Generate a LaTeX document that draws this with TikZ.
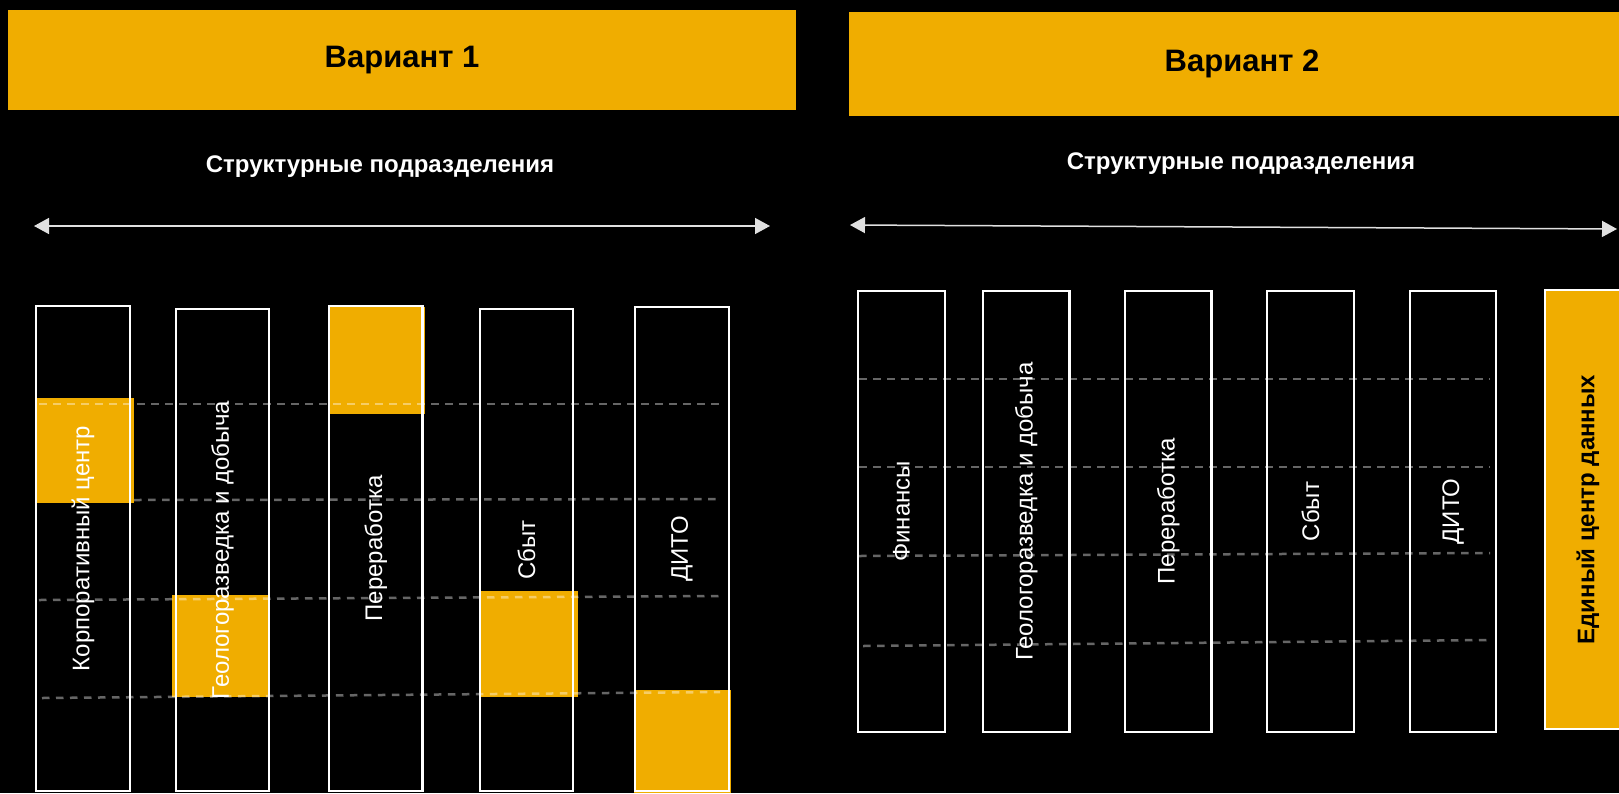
\documentclass[tikz,border=0pt]{standalone}
\usepackage{fontspec}
\setmainfont{Liberation Sans}
\usepackage{tikz}
\usetikzlibrary{arrows.meta,positioning}
\definecolor{amber}{RGB}{240,173,0}

\begin{document}
\begin{tikzpicture}[x=1pt, y=-1pt,
	banner/.style={fill=amber, inner sep=0pt, font=\fontsize{31}{36}\selectfont\bfseries},
	subttl/.style={text=white, font=\fontsize{24}{28}\selectfont\bfseries},
	colbox/.style={draw=white, line width=2.5pt, rotate=90, inner sep=0pt, text=white, font=\fontsize{24}{28}\selectfont},
	hilite/.style={fill=amber},
	level/.style={draw=white, draw opacity=0.4, line width=2.5pt, dash pattern=on 7.5pt off 6.5pt},
	twoway/.style={draw=white!88!black, line width=1.5pt, {Triangle[length=15pt,width=16pt]}-{Triangle[length=15pt,width=16pt]}}]
			\useasboundingbox (0,0) rectangle (1619,793);
			\fill[black] (0,0) rectangle (1619,793);

			\node[banner, minimum width=788pt, minimum height=100pt] (var1) at (402,60) {Вариант 1};
			\node[banner, minimum width=786pt, minimum height=104pt] (var2) at (1242,64) {Вариант 2};

			\node[subttl] (sub1) at (380,167) {Структурные подразделения};
			\node[subttl] (sub2) at (1241,164) {Структурные подразделения};

			\coordinate (l1) at (34,226);
			\coordinate (r1) at (770,226);
			\coordinate (l2) at (850,225);
			\coordinate (r2) at (1617,229);
			\draw [twoway] (l1) to (r1);
			\draw [twoway] (l2) to (r2);

			\fill[hilite] (37,398) rectangle (134,503);
			\fill[hilite] (171.5,595) rectangle (270,697);
			\fill[hilite] (327.5,307) rectangle (424.5,414);
			\fill[hilite] (481,591) rectangle (577.5,697);
			\fill[hilite] (634,690) rectangle (731,793);

			\draw [level] (39,404) to (720,404);
			\draw [level] (134,500) to (720,499);
			\draw [level] (39,600) to (720,596);
			\draw [level] (42,698) to (720,692);

			\draw [level] (859,379) to (1490,379);
			\draw [level] (859,467) to (1490,467);
			\draw [level] (859,556) to (1490,553);
			\draw [level] (863,646) to (1490,640);

			\node[colbox, minimum width=485pt, minimum height=94pt] (corp) at (83,548.5) {Корпоративный центр};
			\node[colbox, minimum width=482pt, minimum height=93pt] (geo1) at (222.5,550) {Геологоразведка и добыча};
			\node[colbox, minimum width=485pt, minimum height=93.5pt] (proc1) at (375.75,548.5) {Переработка};
			\node[colbox, minimum width=482pt, minimum height=93pt] (sale1) at (526.5,550) {Сбыт};
			\node[colbox, minimum width=484pt, minimum height=94pt] (dito1) at (682,549) {ДИТО};

			\node[colbox, minimum width=441pt, minimum height=87pt] (fin) at (901.5,511.5) {Финансы};
			\node[colbox, minimum width=441pt, minimum height=86.5pt] (geo2) at (1026.25,511.5) {Геологоразведка и добыча};
			\node[colbox, minimum width=441pt, minimum height=86.5pt] (proc2) at (1168.25,511.5) {Переработка};
			\node[colbox, minimum width=441pt, minimum height=87pt] (sale2) at (1310.5,511.5) {Сбыт};
			\node[colbox, minimum width=441pt, minimum height=86pt] (dito2) at (1453,511.5) {ДИТО};
			\node[colbox, fill=amber, text=black, font=\fontsize{24}{28}\selectfont\bfseries, minimum width=439pt, minimum height=86pt] (data) at (1588,509.5) {Единый центр данных};
		\end{tikzpicture}
\end{document}
